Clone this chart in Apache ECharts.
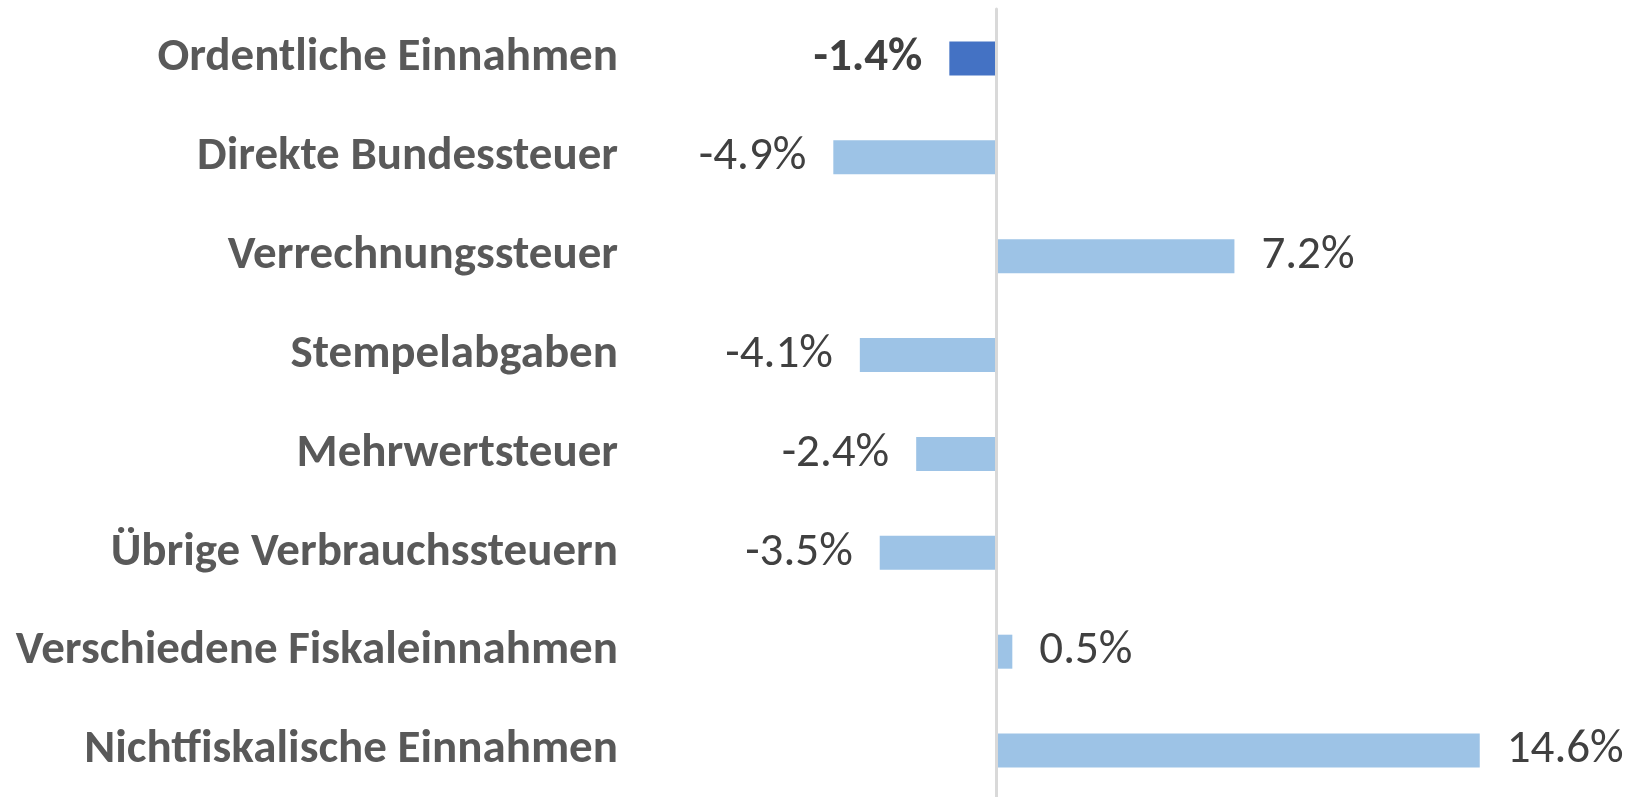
<!DOCTYPE html>
<html>
<head>
<meta charset="utf-8">
<title>Einnahmen</title>
<script src="https://cdn.jsdelivr.net/npm/echarts@6/dist/echarts.min.js"></script>
<style>
	html, body { margin: 0; padding: 0; background: #fff; }
	#main { width: 1642px; height: 797px; }
</style>
</head>
<body>
<div id="main"></div>
<script>
// Kategorien (von oben nach unten)
var categories = [
	'Ordentliche Einnahmen',
	'Direkte Bundessteuer',
	'Verrechnungssteuer',
	'Stempelabgaben',
	'Mehrwertsteuer',
	'Übrige Verbrauchssteuern',
	'Verschiedene Fiskaleinnahmen',
	'Nichtfiskalische Einnahmen'
];
// Veränderung in %
var values = [-1.4, -4.9, 7.2, -4.1, -2.4, -3.5, 0.5, 14.6];
// hervorgehobener Balken (Total)
var highlight = [true, false, false, false, false, false, false, false];

var font = 'Carlito, Lato, sans-serif';

function init() {
	var myChart = echarts.init(document.getElementById('main'));

	//Balken aufbauen
	var data = values.map(function(v, i) {
		return {
			value: v,
			itemStyle: { color: highlight[i] ? '#4472C4' : '#9DC3E6' },
			label: {
				position: v < 0 ? 'left' : 'right',
				fontWeight: highlight[i] ? 'bold' : 'normal'
			}
		};
	});

	var option = {
		animation: false,
		grid: { top: 9, left: 830, width: 663, height: 791, outerBoundsMode: 'none', containLabel: false },
		xAxis: {
			type: 'value',
			min: -5,
			max: 15,
			show: false,
			splitLine: { show: false }
		},
		yAxis: {
			type: 'category',
			inverse: true,
			data: categories,
			z: 3,
			axisLine: { onZero: true, lineStyle: { color: '#d9d9d9', width: 3 } },
			axisTick: { show: false },
			axisLabel: {
				margin: 212,
				padding: [6, 0, 0, 0],
				color: '#595959',
				fontWeight: 'bold',
				fontSize: 47,
				fontFamily: font
			}
		},
		series: [{
			type: 'bar',
			data: data,
			barWidth: 34,
			label: {
				show: true,
				distance: 27,
				padding: [5, 0, 0, 0],
				color: '#404040',
				fontSize: 47,
				fontFamily: font,
				formatter: function(p) {
					return p.value.toFixed(1) + '%';
				}
			}
		}]
	};

	myChart.setOption(option);
}

init();
</script>
</body>
</html>
